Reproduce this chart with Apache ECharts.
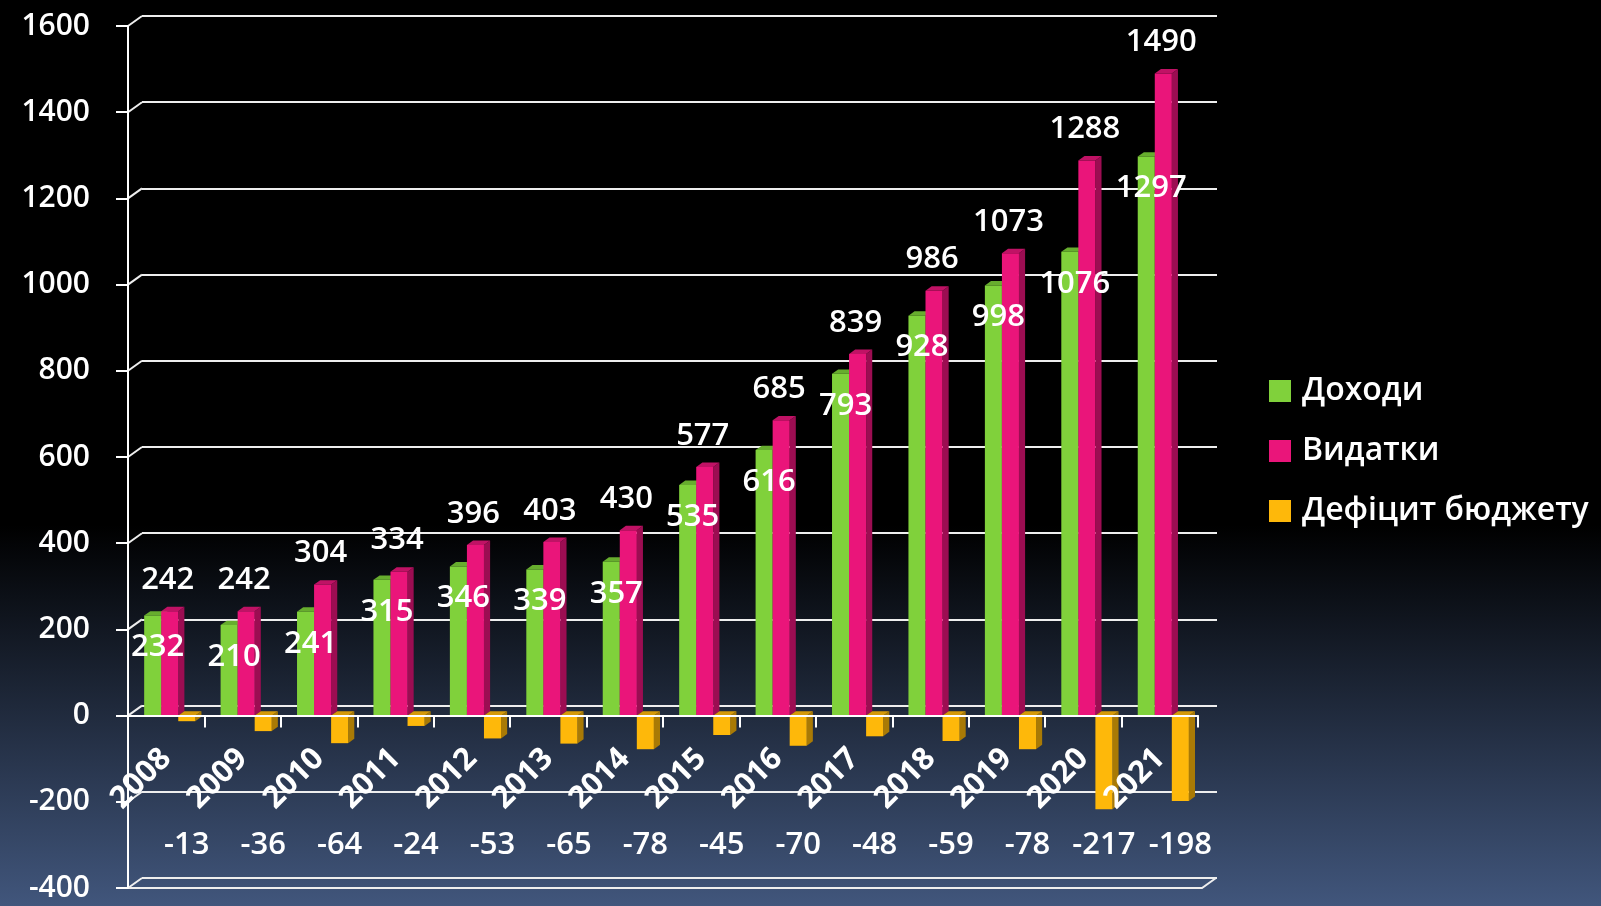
<!DOCTYPE html>
<html>
<head>
<meta charset="utf-8">
<script src="https://cdn.jsdelivr.net/npm/echarts@6/dist/echarts.min.js"></script>
<style>
html,body{margin:0;padding:0;background:#000;}
#chart{width:1601px;height:906px;}
</style>
</head>
<body>
<div id="chart"></div>
<script>
const years = ['2008','2009','2010','2011','2012','2013','2014','2015','2016','2017','2018','2019','2020','2021'];
const revenue = [232, 210, 241, 315, 346, 339, 357, 535, 616, 793, 928, 998, 1076, 1297];
const expenses = [242, 242, 304, 334, 396, 403, 430, 577, 685, 839, 986, 1073, 1288, 1490];
const deficit = [-13, -36, -64, -24, -53, -65, -78, -45, -70, -48, -59, -78, -217, -198];
const yTicks = [-400, -200, 0, 200, 400, 600, 800, 1000, 1200, 1400, 1600];
const seriesNames = ['Доходи', 'Видатки', 'Дефіцит бюджету'];

const FONT = '"Open Sans", "DejaVu Sans", sans-serif';
const DEPTH_X = 14, DEPTH_Y = -10;
const DEFICIT_LABEL_LEVEL = -300;
const Y_MIN = yTicks[0], Y_MAX = yTicks[yTicks.length - 1];
const GRID_H = 862;
const ZERO_OFFSET = -GRID_H * (0 - Y_MIN) / (Y_MAX - Y_MIN);

const palette = [
  {face: '#80d13b', side: '#5a9a26', top: '#67ad2e'},
  {face: '#ea157a', side: '#9c0d52', top: '#c01265'},
  {face: '#feb80a', side: '#a97a05', top: '#d69a08'}
];

function barRenderer(k) {
  return function (params, api) {
    const i = api.value(0), v = api.value(1);
    const c = api.coord([i, v]);
    const b = api.coord([i, 0]);
    const bw = api.size([1, 0])[0];
    const w = bw * 0.223;
    const cx = c[0] + (k - 1) * w + bw * 0.046;
    const x1 = cx - w / 2, x2 = cx + w / 2;
    const yTop = Math.min(c[1], b[1]);
    const yBot = Math.max(c[1], b[1]);
    const dx = w * 0.36, dy = -w * 0.26;
    const col = palette[k];
    const children = [
      {type: 'polygon', shape: {points: [[x2, yTop], [x2 + dx, yTop + dy], [x2 + dx, yBot + dy], [x2, yBot]]}, style: {fill: col.side}},
      {type: 'polygon', shape: {points: [[x1, yTop], [x1 + dx, yTop + dy], [x2 + dx, yTop + dy], [x2, yTop]]}, style: {fill: col.top}},
      {type: 'rect', shape: {x: x1, y: yTop, width: w, height: yBot - yTop}, style: {fill: col.face}}
    ];
    let lx, ly;
    if (k === 0) { lx = cx + 5; ly = yTop + 32; }
    else if (k === 1) { lx = cx - 2; ly = yTop - 31; }
    else { lx = cx; ly = api.coord([i, DEFICIT_LABEL_LEVEL])[1]; }
    children.push({
      type: 'text', z2: 100,
      style: {
        text: String(v), x: lx, y: ly,
        textAlign: 'center', textVerticalAlign: 'middle',
        align: 'center', verticalAlign: 'middle',
        fill: '#ffffff', fontSize: 31, fontWeight: 600, fontFamily: FONT
      }
    });
    return {type: 'group', children: children};
  };
}

const chart = echarts.init(document.getElementById('chart'), null, {renderer: 'canvas'});

const option = {
  animation: false,
  backgroundColor: new echarts.graphic.LinearGradient(0, 0, 0, 1, [
    {offset: 0, color: '#000000'},
    {offset: 0.58, color: '#000000'},
    {offset: 1, color: '#41567c'}
  ]),
  legend: {
    data: seriesNames,
    orient: 'vertical',
    left: 1264,
    top: 370,
    icon: 'rect',
    itemWidth: 22,
    itemHeight: 22,
    itemGap: 28,
    textStyle: {color: '#ffffff', fontSize: 32, fontWeight: 600, fontFamily: FONT, padding: [0, 0, 0, 6]}
  },
  grid: [
    {left: 128, top: 26, width: 1070, height: GRID_H, containLabel: false, outerBoundsMode: 'none'},
    {left: 142, top: 16, width: 1075, height: GRID_H, containLabel: false, outerBoundsMode: 'none'}
  ],
  xAxis: [
    {
      type: 'category', gridIndex: 0, data: years, z: 10,
      position: 'bottom', offset: ZERO_OFFSET,
      axisLine: {show: true, onZero: false, lineStyle: {color: '#ffffff', width: 2}},
      axisTick: {show: true, length: 12, inside: false, lineStyle: {color: '#ffffff', width: 2}},
      axisLabel: {rotate: 45, margin: 38, color: '#ffffff', fontSize: 31, fontWeight: 'bold', fontFamily: FONT, hideOverlap: false, interval: 0},
      splitLine: {show: false}
    },
    {
      type: 'category', gridIndex: 1, data: years, show: false
    }
  ],
  yAxis: [
    {
      type: 'value', gridIndex: 0, min: Y_MIN, max: Y_MAX, interval: 200, z: 10,
      axisLine: {show: true, lineStyle: {color: '#ffffff', width: 2}},
      axisTick: {show: true, length: 12, inside: false, lineStyle: {color: '#ffffff', width: 2}},
      axisLabel: {margin: 38, color: '#ffffff', fontSize: 30, fontWeight: 600, fontFamily: FONT, formatter: v => String(v)},
      splitLine: {show: false}
    },
    {
      type: 'value', gridIndex: 1, min: Y_MIN, max: Y_MAX, interval: 200,
      axisLine: {show: false}, axisTick: {show: false}, axisLabel: {show: false},
      splitLine: {show: true, lineStyle: {color: '#eeeeee', width: 2}}
    }
  ],
  series: [
    {
      type: 'custom', name: '_walls', xAxisIndex: 0, yAxisIndex: 0, silent: true, z: 1,
      data: yTicks.map(v => [0, v]),
      renderItem: function (params, api) {
        const y = api.coord([0, api.value(1)])[1];
        const x0 = params.coordSys.x;
        return {type: 'line', shape: {x1: x0, y1: y, x2: x0 + DEPTH_X, y2: y + DEPTH_Y},
          style: {stroke: '#eeeeee', lineWidth: 2}};
      }
    },
    {
      type: 'custom', name: '_floor', xAxisIndex: 0, yAxisIndex: 0, silent: true, z: 1,
      data: [[0, Y_MIN]],
      renderItem: function (params, api) {
        const y = api.coord([0, api.value(1)])[1];
        const x0 = params.coordSys.x, x1 = x0 + params.coordSys.width;
        return {type: 'polyline', shape: {points: [[x0, y], [x1 + 4, y], [x1 + 4 + DEPTH_X, y + DEPTH_Y]]},
          style: {stroke: '#eeeeee', lineWidth: 2, fill: null}};
      }
    },
    {
      type: 'custom', name: seriesNames[0], xAxisIndex: 0, yAxisIndex: 0, z: 2,
      itemStyle: {color: palette[0].face},
      data: revenue.map((v, i) => [i, v]),
      renderItem: barRenderer(0)
    },
    {
      type: 'custom', name: seriesNames[1], xAxisIndex: 0, yAxisIndex: 0, z: 2,
      itemStyle: {color: palette[1].face},
      data: expenses.map((v, i) => [i, v]),
      renderItem: barRenderer(1)
    },
    {
      type: 'custom', name: seriesNames[2], xAxisIndex: 0, yAxisIndex: 0, z: 2,
      itemStyle: {color: palette[2].face},
      data: deficit.map((v, i) => [i, v]),
      renderItem: barRenderer(2)
    }
  ]
};
chart.setOption(option);
</script>
</body>
</html>
